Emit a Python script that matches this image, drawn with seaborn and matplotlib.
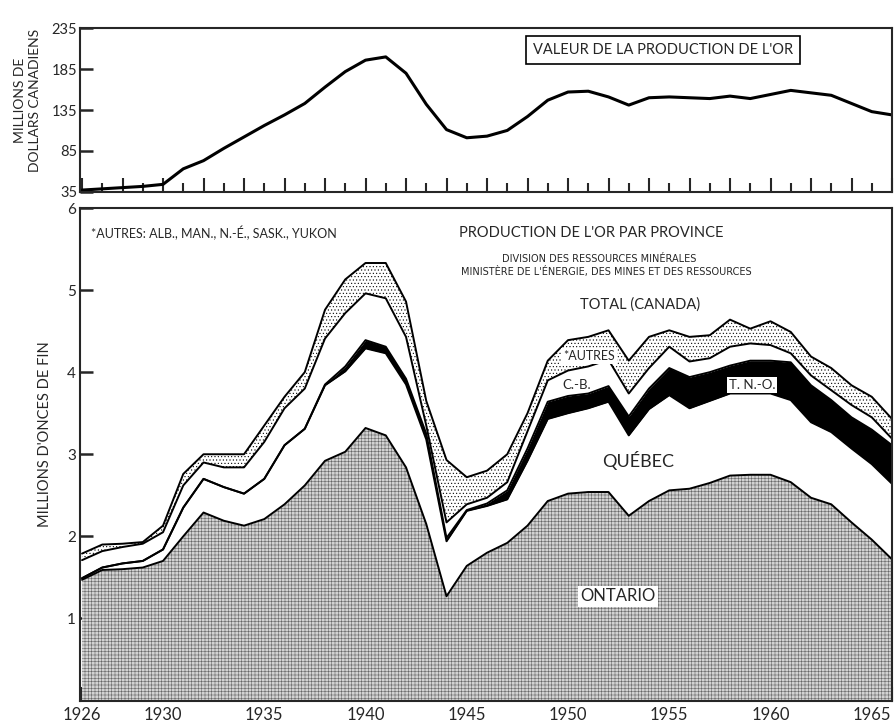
import numpy as np
import pandas as pd
import seaborn as sns
import matplotlib.pyplot as plt

# years shown on both panels
years = list(range(1926, 1967))

# top panel: value of gold production (millions of Canadian dollars)
valeur = [37, 38.5, 40, 41.5, 44, 63, 73, 88, 102, 116,
          129, 143, 163, 182, 196, 200, 180, 142, 111, 101,
          103, 110, 127, 147, 157, 158, 151, 141, 150, 151,
          150, 149, 152, 149, 154, 159, 156, 153, 143, 133, 129]

# lower panel: production by province (millions of fine ounces)
ontario = [1.47, 1.59, 1.60, 1.62, 1.70, 2.00, 2.29, 2.19, 2.13, 2.21,
           2.39, 2.62, 2.92, 3.03, 3.32, 3.23, 2.84, 2.15, 1.27, 1.64,
           1.80, 1.92, 2.13, 2.43, 2.52, 2.54, 2.54, 2.25, 2.43, 2.56,
           2.58, 2.65, 2.74, 2.75, 2.75, 2.66, 2.47, 2.39, 2.17, 1.96, 1.72]
quebec = [0.02, 0.03, 0.07, 0.08, 0.14, 0.35, 0.41, 0.41, 0.39, 0.49,
          0.72, 0.69, 0.92, 0.98, 0.97, 1.00, 1.01, 1.03, 0.67, 0.67,
          0.57, 0.53, 0.79, 1.00, 0.98, 1.02, 1.10, 0.98, 1.12, 1.16,
          0.98, 1.00, 1.00, 0.99, 0.99, 1.00, 0.92, 0.88, 0.90, 0.92, 0.92]
tno = [0, 0, 0, 0, 0, 0, 0, 0, 0, 0,
       0, 0, 0.01, 0.06, 0.10, 0.08, 0.07, 0.07, 0.04, 0.01,
       0.03, 0.11, 0.15, 0.21, 0.21, 0.18, 0.19, 0.23, 0.25, 0.33,
       0.38, 0.35, 0.34, 0.40, 0.40, 0.46, 0.45, 0.39, 0.38, 0.42, 0.47]
cb = [0.22, 0.20, 0.20, 0.21, 0.21, 0.27, 0.20, 0.24, 0.32, 0.45,
      0.45, 0.49, 0.56, 0.65, 0.57, 0.59, 0.51, 0.10, 0.19, 0.07,
      0.07, 0.10, 0.21, 0.26, 0.31, 0.33, 0.32, 0.28, 0.25, 0.26,
      0.19, 0.17, 0.23, 0.21, 0.19, 0.11, 0.12, 0.12, 0.15, 0.15, 0.08]
autres = [0.08, 0.08, 0.04, 0.02, 0.08, 0.14, 0.10, 0.16, 0.16, 0.20,
          0.14, 0.20, 0.35, 0.41, 0.37, 0.43, 0.43, 0.30, 0.76, 0.33,
          0.33, 0.34, 0.22, 0.24, 0.37, 0.36, 0.36, 0.40, 0.38, 0.20,
          0.30, 0.28, 0.33, 0.18, 0.29, 0.26, 0.23, 0.27, 0.24, 0.25, 0.24]

df = pd.DataFrame({'annee': years, 'Ontario': ontario, 'Quebec': quebec,
                   'TNO': tno, 'CB': cb, 'Autres': autres})
cols = ['Ontario', 'Quebec', 'TNO', 'CB', 'Autres']
stack = df[cols].cumsum(axis=1)

sns.set_style('ticks')
plt.rcParams['font.family'] = ['Lato', 'DejaVu Sans']
plt.rcParams['hatch.linewidth'] = 0.4

W, H = 894, 727
fig = plt.figure(figsize=(W / 100, H / 100), dpi=100)
ax1 = fig.add_axes([80 / W, 1 - 191.7 / H, 812 / W, 163.4 / H])
ax2 = fig.add_axes([80 / W, 1 - 700.5 / H, 812 / W, 492.5 / H])

# --- top panel
sns.lineplot(x=years, y=valeur, ax=ax1, color='black', lw=2.2)
ax1.set_xlim(1925.9, 1966)
ax1.set_ylim(35, 235)
ax1.set_yticks([35, 85, 135, 185, 235])
ax1.set_ylabel('MILLIONS DE\nDOLLARS CANADIENS', fontsize=10, linespacing=1.3)
ax1.yaxis.set_label_coords(-0.048, 0.56)

# --- lower panel: stacked bands
ax2.fill_between(years, 0, stack['Ontario'], facecolor='#d2d2d2', hatch='+++++',
                 edgecolor='#666666', linewidth=0)
ax2.fill_between(years, stack['Ontario'], stack['Quebec'], facecolor='white', linewidth=0)
ax2.fill_between(years, stack['Quebec'], stack['TNO'], facecolor='black', linewidth=0)
ax2.fill_between(years, stack['TNO'], stack['CB'], facecolor='white', linewidth=0)
ax2.fill_between(years, stack['CB'], stack['Autres'], facecolor='white', hatch='.....',
                 edgecolor='black', linewidth=0)
for c in cols:
    sns.lineplot(x=years, y=stack[c], ax=ax2, color='black', lw=1.4)

ax2.set_xlim(1925.9, 1966)
ax2.set_ylim(0, 6)
ax2.set_yticks([1, 2, 3, 4, 5, 6])
ax2.set_ylabel("MILLIONS D'ONCES DE FIN", fontsize=10.5)
ax2.yaxis.set_label_coords(-0.034, 0.54)

for ax in (ax1, ax2):
    ax.set_xlabel('')
    ax.set_xticks(years[::2])
    ax.set_xticks(years[1::2], minor=True)
    ax.tick_params(axis='x', which='major', direction='in', length=10, width=1.5,
                   labelbottom=False)
    ax.tick_params(axis='x', which='minor', direction='in', length=6.5, width=1.5)
    ax.tick_params(axis='y', direction='in', length=9, width=1.8, labelsize=11, pad=3)
    for s in ax.spines.values():
        s.set_linewidth(1.5)
        s.set_visible(True)
ax1.tick_params(axis='y', labelsize=10.5, pad=2)

# year labels on the bottom
sec = ax2.secondary_xaxis('bottom')
sec.set_xticks([1926, 1930, 1935, 1940, 1945, 1950, 1955, 1960, 1965])
sec.tick_params(length=0, labelsize=12, pad=5)
sec.spines['bottom'].set_visible(False)


def ftext(px, py, s, **kw):
    kw.setdefault('ha', 'center')
    fig.text(px / W, 1 - py / H, s, va='center', **kw)


box = dict(boxstyle='square,pad=0.15', fc='white', ec='none')
ftext(663, 50, "VALEUR DE LA PRODUCTION DE L'OR", fontsize=10.5,
      bbox=dict(boxstyle='square,pad=0.45', fc='white', ec='black', lw=1.2))
ftext(91, 233, "*AUTRES: ALB., MAN., N.-É., SASK., YUKON", fontsize=9, ha='left')
ftext(591, 233, "PRODUCTION DE L'OR PAR PROVINCE", fontsize=10.5)
ftext(599, 259, "DIVISION DES RESSOURCES MINÉRALES", fontsize=7, family='DejaVu Sans')
ftext(606, 272, "MINISTÈRE DE L'ÉNERGIE, DES MINES ET DES RESSOURCES", fontsize=7,
      family='DejaVu Sans')
ftext(640, 305, "TOTAL (CANADA)", fontsize=10.5)
ftext(589, 356, "*AUTRES", fontsize=9, bbox=box)
ftext(577, 385, "C.-B.", fontsize=9.5)
ftext(752, 385, "T. N.-O.", fontsize=9.5, bbox=box)
ftext(638, 461, "QUÉBEC", fontsize=13)
ftext(618, 596, "ONTARIO", fontsize=12, bbox=box)

fig.savefig('out.png', dpi=100)
